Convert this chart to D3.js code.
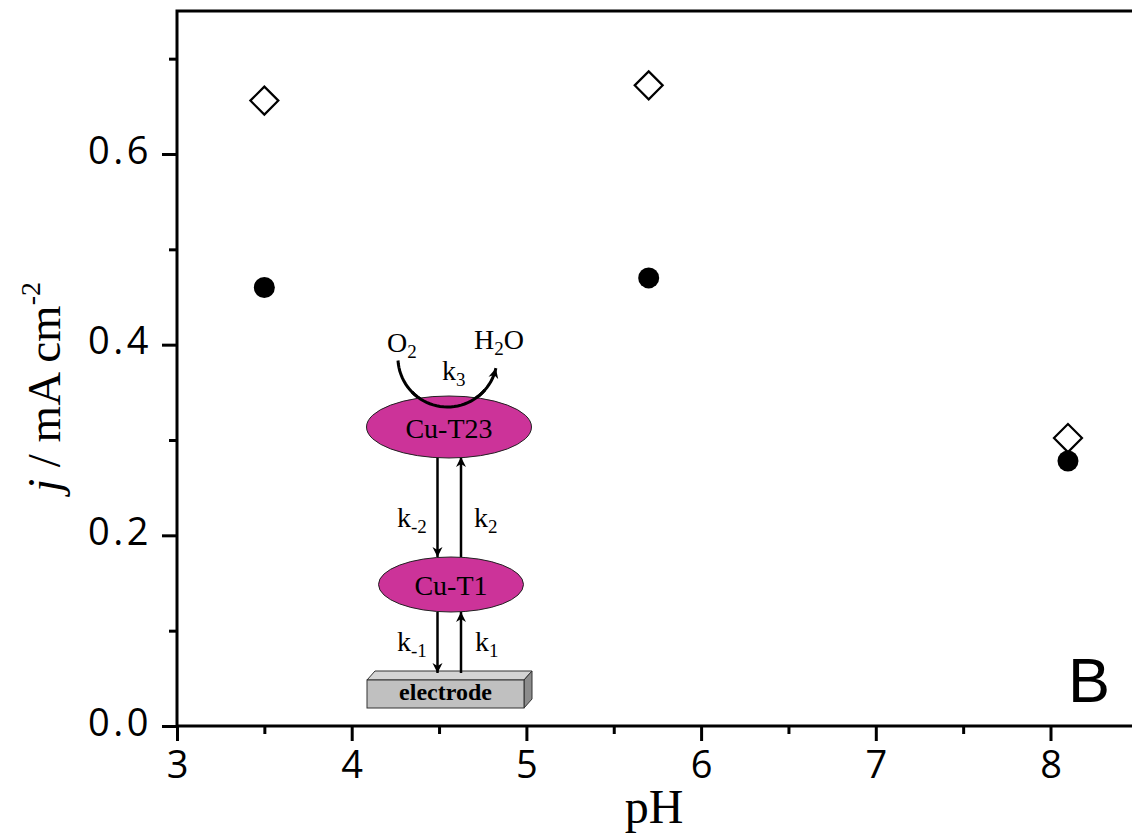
<!DOCTYPE html>
<html>
<head>
<meta charset="utf-8">
<script src="https://cdn.jsdelivr.net/npm/d3@7"></script>
<style>
  html, body { margin: 0; padding: 0; background: #fff; }
  svg { display: block; }
  .tick text { font-family: "Open Sans", sans-serif; }
</style>
</head>
<body>
<svg id="chart" width="1132" height="837"></svg>
<script>
// Current density vs. pH
const pH = [3.5, 5.7, 8.1];
const jOpen = [0.656, 0.672, 0.302];   // open diamonds
const jFilled = [0.460, 0.470, 0.278]; // filled circles

const xTicks = [3, 4, 5, 6, 7, 8];
const xMinor = [3.5, 4.5, 5.5, 6.5, 7.5];
const yTicks = [0.0, 0.2, 0.4, 0.6];
const yMinor = [0.1, 0.3, 0.5, 0.7];

(function () {
const svg = d3.select("#chart");
const W = 1132;
const mLeft = 177, mBottom = 726, mTop = 11;
const pxPerPH = 174.7;

const x = d3.scaleLinear().domain([3, 8.5]).range([mLeft, mLeft + 5.5 * pxPerPH]);
const y = d3.scaleLinear().domain([0, 0.75]).range([mBottom, mTop]);

// minor ticks
svg.append("g").attr("transform", `translate(0,${mBottom})`)
  .call(d3.axisBottom(x).tickValues(xMinor).tickSize(8).tickFormat(""))
  .call(g => g.select(".domain").remove())
  .call(g => g.selectAll("line").attr("stroke", "#000").attr("stroke-width", 3));
svg.append("g").attr("transform", `translate(${mLeft},0)`)
  .call(d3.axisLeft(y).tickValues(yMinor).tickSize(8).tickFormat(""))
  .call(g => g.select(".domain").remove())
  .call(g => g.selectAll("line").attr("stroke", "#000").attr("stroke-width", 3));

// major axes
const xAxis = svg.append("g").attr("transform", `translate(0,${mBottom})`)
  .call(d3.axisBottom(x).tickValues(xTicks).tickSize(15).tickPadding(10).tickFormat(d3.format("d")));
xAxis.select(".domain").remove();
xAxis.selectAll("line").attr("stroke", "#000").attr("stroke-width", 3);
xAxis.selectAll("text").attr("font-size", 38).attr("fill", "#000");

const yAxis = svg.append("g").attr("transform", `translate(${mLeft},0)`)
  .call(d3.axisLeft(y).tickValues(yTicks).tickSize(15).tickPadding(10).tickFormat(d3.format(".1f")));
yAxis.select(".domain").remove();
yAxis.selectAll("line").attr("stroke", "#000").attr("stroke-width", 3);
yAxis.selectAll("text").attr("font-size", 38).attr("fill", "#000")
  .attr("letter-spacing", 3.5).attr("dy", "0.24em");

// frame lines (left, bottom, top)
svg.append("path")
  .attr("d", `M${W + 5},${mTop} H${mLeft} V${mBottom} H${W + 5}`)
  .attr("fill", "none").attr("stroke", "#000").attr("stroke-width", 3);

// axis titles
const serif = "'Liberation Serif', 'Times New Roman', serif";
svg.append("text")
  .attr("x", 654).attr("y", 823)
  .attr("text-anchor", "middle")
  .attr("font-family", serif)
  .attr("font-size", 48)
  .text("pH");

const yl = svg.append("text")
  .attr("transform", `translate(60,387) rotate(-90)`)
  .attr("text-anchor", "middle")
  .attr("font-family", serif)
  .attr("font-size", 47);
yl.append("tspan").attr("font-style", "italic").text("j");
yl.append("tspan").text(" / mA cm");
yl.append("tspan").attr("font-size", 28).attr("dy", -20).text("-2");

// panel letter
svg.append("text")
  .attr("x", 1068).attr("y", 702)
  .attr("font-family", "'Liberation Sans', Arial, sans-serif")
  .attr("font-size", 63)
  .text("B");

// data markers
svg.append("g").selectAll("path")
  .data(pH.map((p, i) => [p, jOpen[i]]))
  .join("path")
  .attr("transform", d => `translate(${x(d[0])},${y(d[1])})`)
  .attr("d", "M0,-14 L14,0 L0,14 L-14,0 Z")
  .attr("fill", "#fff").attr("stroke", "#000").attr("stroke-width", 2.2);

svg.append("g").selectAll("circle")
  .data(pH.map((p, i) => [p, jFilled[i]]))
  .join("circle")
  .attr("cx", d => x(d[0])).attr("cy", d => y(d[1]))
  .attr("r", 10.5).attr("fill", "#000");

// ---- reaction scheme ----
const magenta = "#cc3399";
const sch = svg.append("g");

const defs = svg.append("defs");
defs.append("marker").attr("id", "ah")
  .attr("viewBox", "0 0 10 10").attr("refX", 10).attr("refY", 5)
  .attr("markerWidth", 10).attr("markerHeight", 12).attr("markerUnits", "userSpaceOnUse")
  .attr("orient", "auto")
  .append("path").attr("d", "M0,0 L10,5 L0,10 L3,5 Z").attr("fill", "#000");

// arc O2 -> H2O
const cx = 447.5, cy = 357.4, r = 49.6;
const a0 = Math.PI * 1.02, a1 = Math.PI * 1.93;
const arcPts = d3.range(0, 41).map(i => {
  const a = a0 + (a1 - a0) * i / 40;
  return [cx + r * Math.cos(a), cy - r * Math.sin(a)];
});
sch.append("path")
  .attr("d", d3.line()(arcPts))
  .attr("fill", "none").attr("stroke", "#000").attr("stroke-width", 3)
  .attr("marker-end", "url(#ah)");

// electrode block
const ex0 = 367, ex1 = 524, ey0 = 680, ey1 = 708, dep = 8;
sch.append("path")
  .attr("d", `M${ex0},${ey0} L${ex0 + dep},${ey0 - 9} L${ex1 + dep},${ey0 - 9} L${ex1},${ey0} Z`)
  .attr("fill", "#d4d4d4").attr("stroke", "#333").attr("stroke-width", 1);
sch.append("path")
  .attr("d", `M${ex1},${ey0} L${ex1 + dep},${ey0 - 9} L${ex1 + dep},${ey1 - 9} L${ex1},${ey1} Z`)
  .attr("fill", "#8c8c8c").attr("stroke", "#333").attr("stroke-width", 1);
sch.append("rect")
  .attr("x", ex0).attr("y", ey0).attr("width", ex1 - ex0).attr("height", ey1 - ey0)
  .attr("fill", "#c0c0c0").attr("stroke", "#333").attr("stroke-width", 1);
sch.append("text")
  .attr("x", (ex0 + ex1) / 2).attr("y", 700).attr("text-anchor", "middle")
  .attr("font-family", serif).attr("font-weight", "bold").attr("font-size", 24)
  .text("electrode");

// vertical arrows
const arrows = [
  [437.5, 457, 557], [461, 557, 457],
  [437.5, 612, 673], [461, 673, 612]
];
sch.selectAll("line.arr").data(arrows).join("line")
  .attr("class", "arr")
  .attr("x1", d => d[0]).attr("x2", d => d[0])
  .attr("y1", d => d[1]).attr("y2", d => d[2])
  .attr("stroke", "#000").attr("stroke-width", 2.5)
  .attr("marker-end", "url(#ah)");

// ellipses
sch.append("ellipse").attr("cx", 449).attr("cy", 427).attr("rx", 82.5).attr("ry", 31)
  .attr("fill", magenta).attr("stroke", "#222").attr("stroke-width", 1);
sch.append("ellipse").attr("cx", 451).attr("cy", 584.5).attr("rx", 72.5).attr("ry", 27.5)
  .attr("fill", magenta).attr("stroke", "#222").attr("stroke-width", 1);

// lower part of the arc stays visible over the top ellipse
sch.append("path")
  .attr("d", d3.line()(arcPts.filter(p => p[1] > 390)))
  .attr("fill", "none").attr("stroke", "#000").attr("stroke-width", 3);

const label = (tx, ty, parts) => {
  const t = sch.append("text").attr("x", tx).attr("y", ty)
    .attr("font-family", serif).attr("font-size", 28);
  parts.forEach(p => {
    const s = t.append("tspan").text(p[0]);
    if (p[1]) s.attr("dy", p[1]);
    if (p[2]) s.attr("font-size", 19);
  });
  return t;
};
sch.append("text").attr("x", 449).attr("y", 438).attr("text-anchor", "middle")
  .attr("font-family", serif).attr("font-size", 28).text("Cu-T23");
sch.append("text").attr("x", 451).attr("y", 595).attr("text-anchor", "middle")
  .attr("font-family", serif).attr("font-size", 28).text("Cu-T1");

label(387, 352, [["O"], ["2", 6, true]]);
label(474, 349, [["H"], ["2", 6, true], ["O", -6]]);
label(442, 380, [["k"], ["3", 6, true]]);
label(397, 527, [["k"], ["-2", 6, true]]);
label(474, 527, [["k"], ["2", 6, true]]);
label(397, 651, [["k"], ["-1", 6, true]]);
label(475, 651, [["k"], ["1", 6, true]]);
})();
</script>
</body>
</html>
